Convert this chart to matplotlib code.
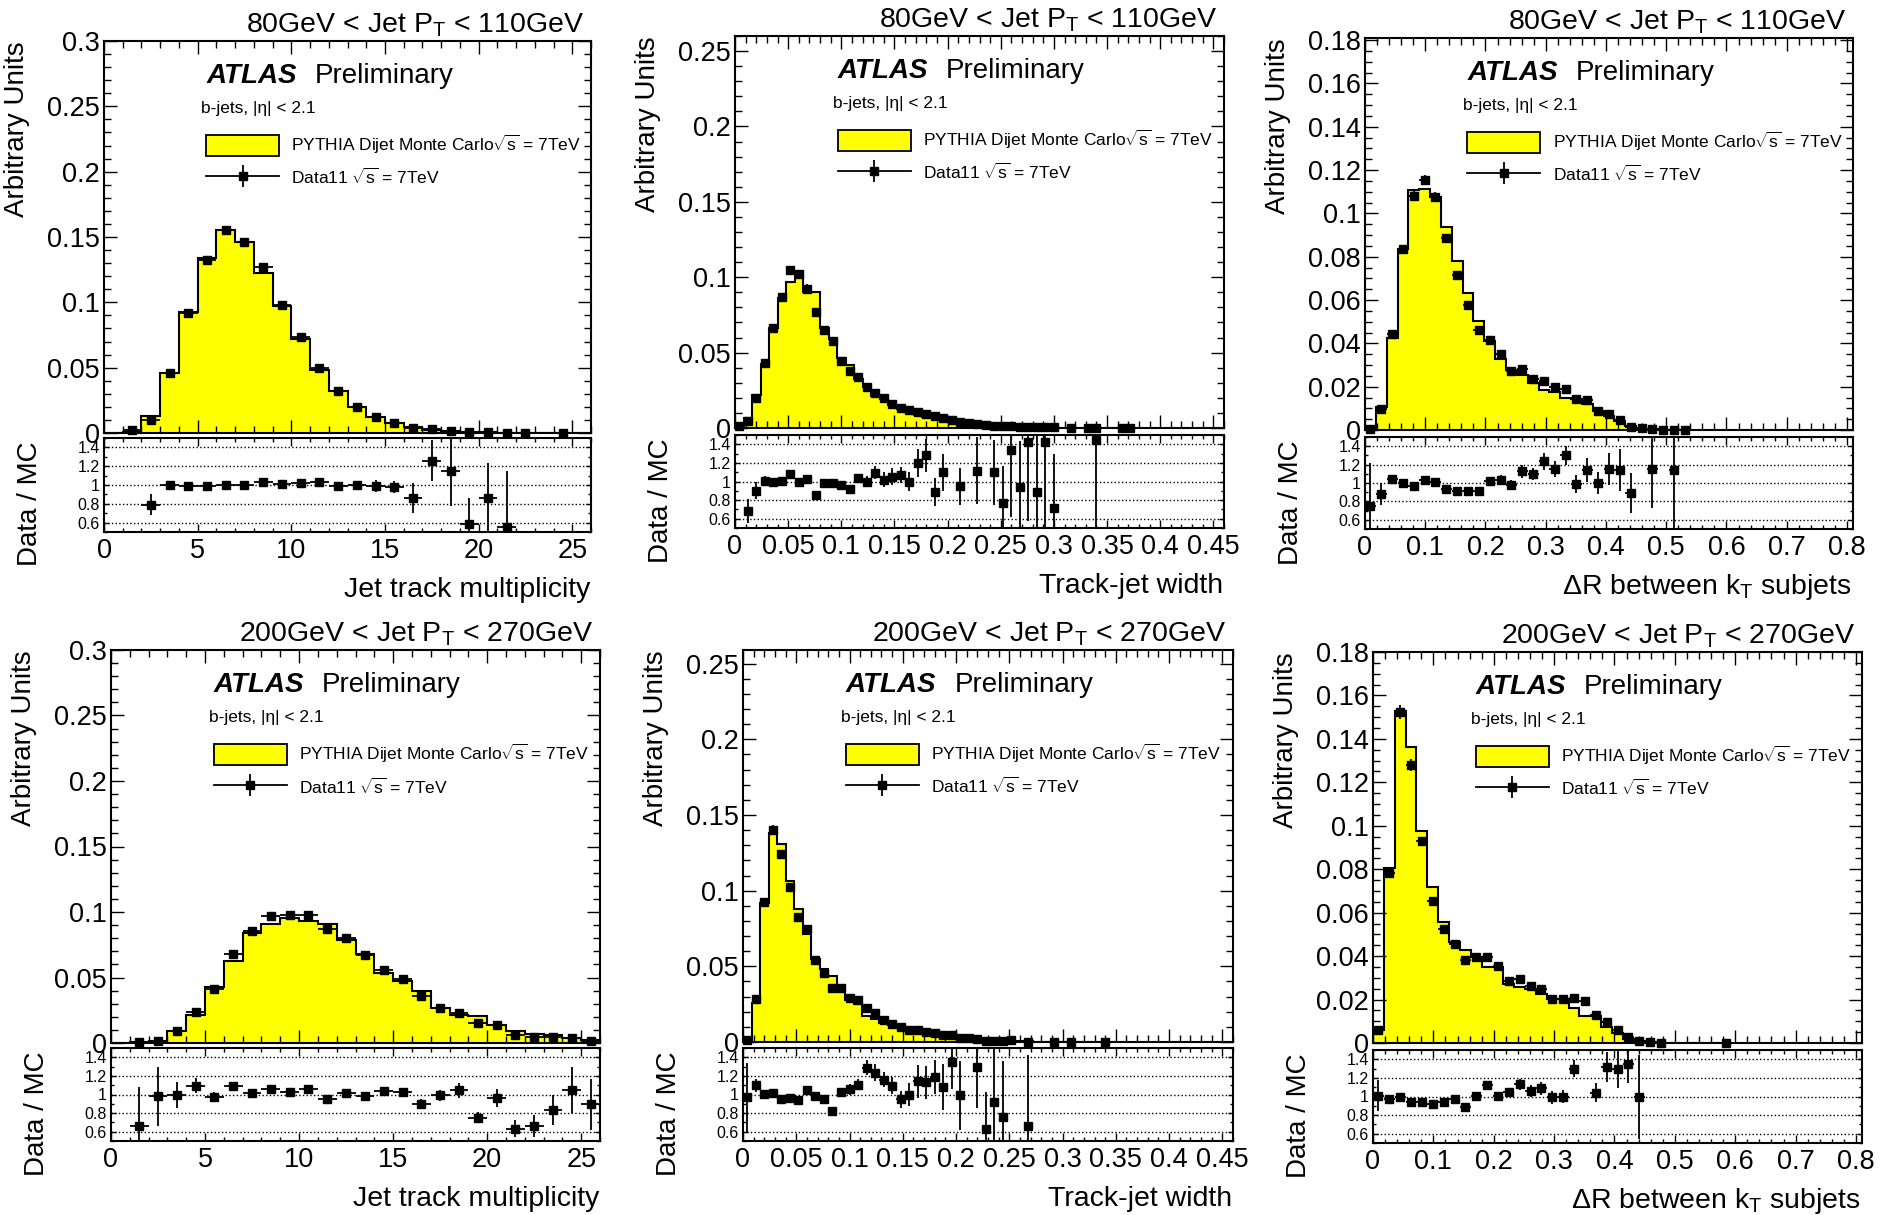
import numpy as np
import matplotlib
matplotlib.use('Agg')
import matplotlib.pyplot as plt
from matplotlib.ticker import MultipleLocator, FuncFormatter
from matplotlib.patches import Patch
from matplotlib.lines import Line2D

plt.rcParams['font.family'] = ['Liberation Sans', 'DejaVu Sans']
plt.rcParams['mathtext.fontset'] = 'custom'
plt.rcParams['mathtext.rm'] = 'Liberation Sans'
plt.rcParams['mathtext.it'] = 'Liberation Sans:italic'
plt.rcParams['mathtext.bf'] = 'Liberation Sans:bold'

N = None
# ---------------- Panel 1: Jet track multiplicity, 80-110 GeV ----------------
p1_width = 1.0
p1_mc = [0.0, 0.001, 0.0128, 0.046, 0.0926, 0.134, 0.155, 0.146, 0.1227, 0.097, 0.0717,
         0.0485, 0.0321, 0.020, 0.0122, 0.0077, 0.0046, 0.0026, 0.0015, 0.0008, 0.0005,
         0.0003, 0.0002, 0.0001, 0.0001, 0.0]
p1_data = [N, 0.002, 0.010, 0.0458, 0.0917, 0.1327, 0.155, 0.146, 0.127, 0.098, 0.0731,
           0.0499, 0.0318, 0.0201, 0.0121, 0.0075, 0.0040, 0.0033, 0.0017, 0.0005, 0.0004,
           0.0002, 0.0001, N, 0.0001, N]
p1_ratio = [N, N, 0.79, 0.995, 0.99, 0.99, 1.0, 1.0, 1.035, 1.01, 1.02, 1.03, 0.99, 1.005,
            0.99, 0.98, 0.86, 1.26, 1.15, 0.58, 0.86, 0.55, N, N, N, N]
p1_rerr = [0, 0, 0.11, 0.03, 0.02, 0.02, 0.015, 0.015, 0.015, 0.02, 0.02, 0.025, 0.03, 0.04,
           0.06, 0.06, 0.16, 0.22, 0.37, 0.28, 0.37, 0.6, 0, 0, 0, 0]

# ---------------- Panel 2: Track-jet width, 80-110 GeV ----------------
p2_width = 0.008
p2_mc = [0.0006, 0.0068, 0.022, 0.0426, 0.0665, 0.086, 0.097, 0.103, 0.090, 0.090, 0.066,
         0.059, 0.0465, 0.0415, 0.0328, 0.0275, 0.021, 0.0194, 0.0151, 0.0123, 0.0118,
         0.0088, 0.0072, 0.0087, 0.0060, 0.0042, 0.0042, 0.0030, 0.0023, 0.0019, 0.00145,
         0.0014, 0.0009, 0.00085, 0.00056, 0.00068, 0.00042, 0.00055, 0.0003, 0.0002,
         0.0002, 0.0001, 0.00014, 0.0001, 0.0001, 0.0, 0.0]
p2_data = [0.0011, 0.0048, 0.0198, 0.043, 0.0665, 0.087, 0.1046, 0.102, 0.0925, 0.077,
           0.065, 0.058, 0.0445, 0.038, 0.034, 0.0275, 0.023, 0.0198, 0.0159, 0.0132, 0.0118,
           0.0106, 0.0092, 0.0077, 0.0066, 0.0050, 0.0040, 0.0033, 0.0026, 0.0022, 0.0016,
           0.0011, 0.0012, 0.0008, 0.0008, 0.0006, 0.0006, 0.0004, N, 0.0003, N, 0.0002,
           0.0002, N, N, 0.0001, 0.0001]
p2_ratio = [N, 0.68, 0.90, 1.01, 1.0, 1.01, 1.08, 0.99, 1.025, 0.856, 0.98, 0.985, 0.957,
            0.914, 1.036, 1.0, 1.093, 1.02, 1.05, 1.07, 1.0, 1.2, 1.28, 0.89, 1.1, N, 0.95,
            N, 1.115, N, 1.1, 0.77, 1.34, 0.94, 1.43, 0.885, 1.43, 0.72, N, N, N, N, 1.45,
            N, N, N, N]
p2_rerr = [0, 0.13, 0.09, 0.05, 0.03, 0.03, 0.03, 0.03, 0.03, 0.03, 0.03, 0.03, 0.04, 0.05,
           0.05, 0.06, 0.07, 0.08, 0.09, 0.09, 0.1, 0.15, 0.18, 0.15, 0.2, 0, 0.2, 0, 0.36,
           0, 0.35, 0.4, 0.72, 0.5, 0.85, 0.9, 1.0, 0.58, 0, 0, 0, 0, 1.5, 0, 0, 0, 0]

# ---------------- Panel 3: dR between kT subjets, 80-110 GeV ----------------
p3_width = 0.018
p3_mc = [0.0007, 0.0108, 0.0425, 0.0838, 0.111, 0.1114, 0.1077, 0.0938, 0.078, 0.0634,
         0.0503, 0.0412, 0.033, 0.0277, 0.0254, 0.0218, 0.0185, 0.0177, 0.0146, 0.0144,
         0.0121, 0.0088, 0.0064, 0.0040, 0.0017, 0.0006, 0.0003, 0.0002, 0.0001, 0.0001]
p3_data = [0.0005, 0.0095, 0.0442, 0.0834, 0.108, 0.1154, 0.1077, 0.0885, 0.0715, 0.0577,
           0.0462, 0.0415, 0.035, 0.0272, 0.028, 0.0235, 0.0226, 0.020, 0.019, 0.0143,
           0.0138, 0.0088, 0.0074, 0.0046, 0.0015, 0.0008, 0.0003, 0.0002, 0.0001, 0.0001]
p3_ratio = [0.75, 0.88, 1.04, 1.0, 0.97, 1.036, 1.007, 0.94, 0.916, 0.91, 0.916, 1.018,
            1.036, 0.98, 1.127, 1.098, 1.236, 1.153, 1.30, 0.99, 1.138, 1.0, 1.153, 1.138,
            0.89, N, 1.153, N, 1.145, N]
p3_rerr = [0.47, 0.12, 0.03, 0.02, 0.02, 0.02, 0.02, 0.02, 0.02, 0.02, 0.03, 0.04, 0.05,
           0.05, 0.07, 0.07, 0.09, 0.09, 0.1, 0.1, 0.13, 0.12, 0.17, 0.23, 0.22, 0, 0.43,
           0, 1.0, 0]

# ---------------- Panel 4: Jet track multiplicity, 200-270 GeV ----------------
p4_width = 1.0
p4_mc = [0.0, 0.0008, 0.0013, 0.0094, 0.0217, 0.0426, 0.0625, 0.0842, 0.091, 0.0952, 0.093,
         0.091, 0.079, 0.068, 0.0536, 0.0472, 0.0395, 0.0268, 0.0217, 0.0204, 0.014, 0.0094,
         0.0071, 0.0059, 0.0038, 0.002]
p4_data = [N, 0.0005, 0.0013, 0.0093, 0.0238, 0.0415, 0.068, 0.0857, 0.0968, 0.098, 0.098,
           0.0868, 0.0804, 0.0668, 0.0555, 0.0486, 0.0356, 0.0265, 0.0227, 0.0153, 0.0135,
           0.0059, 0.0047, 0.0049, 0.004, 0.0018]
p4_ratio = [N, 0.66, 0.98, 0.99, 1.096, 0.975, 1.09, 1.018, 1.064, 1.03, 1.054, 0.954, 1.018,
            0.982, 1.036, 1.03, 0.9, 0.99, 1.046, 0.75, 0.964, 0.632, 0.66, 0.83, 1.046, 0.893]
p4_rerr = [0, 0.42, 0.32, 0.14, 0.08, 0.05, 0.04, 0.03, 0.03, 0.03, 0.03, 0.03, 0.03, 0.03,
           0.04, 0.04, 0.05, 0.06, 0.08, 0.06, 0.1, 0.09, 0.12, 0.16, 0.25, 0.27]

# ---------------- Panel 5: Track-jet width, 200-270 GeV ----------------
p5_width = 0.008
p5_mc = [0.0015, 0.026, 0.092, 0.138, 0.131, 0.1067, 0.0876, 0.0713, 0.0551, 0.048, 0.0433,
         0.035, 0.0277, 0.0254, 0.0174, 0.0155, 0.0128, 0.0111, 0.0103, 0.0082, 0.0068,
         0.0060, 0.0052, 0.0043, 0.0033, 0.0028, 0.0016, 0.0014, 0.0011, 0.0009, 0.0008,
         0.0005, 0.0004, 0.00045, 0.0003, 0.0002, 0.0002, 0.0001, 0.0001, 0.0001, 0.0001,
         0.0001, 0.0001]
p5_data = [0.0015, 0.0286, 0.0925, 0.1403, 0.1244, 0.1024, 0.0826, 0.0749, 0.054, 0.0458,
           0.0357, 0.0359, 0.0293, 0.028, 0.0225, 0.0192, 0.0148, 0.0121, 0.0098, 0.0082,
           0.0077, 0.0068, 0.0062, 0.0046, 0.0045, 0.0028, 0.0026, 0.0018, 0.0007, 0.0008,
           0.0006, 0.0010, N, 0.0003, N, N, 0.0002, N, 0.0002, N, N, N, 0.0002]
p5_ratio = [0.97, 1.10, 1.007, 1.014, 0.95, 0.96, 0.943, 1.05, 0.98, 0.954, 0.825, 1.025,
            1.057, 1.104, 1.29, 1.236, 1.157, 1.093, 0.95, 1.0, 1.14, 1.13, 1.19, 1.08, 1.354,
            0.99, N, 1.3, 0.63, 0.914, 0.76, N, N, 0.66, N, N, N, N, N, N, N, N, N]
p5_rerr = [0.37, 0.07, 0.03, 0.02, 0.02, 0.02, 0.03, 0.03, 0.04, 0.04, 0.04, 0.05, 0.06,
           0.06, 0.08, 0.09, 0.08, 0.09, 0.09, 0.12, 0.18, 0.18, 0.18, 0.25, 0.3, 0.37, 0,
           0.45, 0.4, 1.0, 0.6, 0, 0, 0.76, 0, 0, 0, 0, 0, 0, 0, 0, 0]

# ---------------- Panel 6: dR between kT subjets, 200-270 GeV ----------------
p6_width = 0.018
p6_mc = [0.006, 0.0806, 0.153, 0.1363, 0.0974, 0.0718, 0.0557, 0.0466, 0.043, 0.0397,
         0.0351, 0.0351, 0.0272, 0.026, 0.0248, 0.0227, 0.0204, 0.0202, 0.016, 0.0125,
         0.0122, 0.0074, 0.0047, 0.0020, 0.0008, 0.0003, 0.0002, 0.0001, 0.0001, 0.0001,
         0.0001, 0.0, 0.0]
p6_data = [0.006, 0.0782, 0.1524, 0.128, 0.0928, 0.0656, 0.0524, 0.0455, 0.0382, 0.0395,
           0.0394, 0.0353, 0.0285, 0.0295, 0.0263, 0.0247, 0.0203, 0.0202, 0.0206, 0.0195,
           0.0127, 0.0096, 0.0061, 0.0027, 0.0008, 0.0005, 0.0002, N, N, N, N, N, 0.0001]
p6_ratio = [1.01, 0.97, 1.0, 0.936, 0.946, 0.918, 0.94, 0.97, 0.886, 1.01, 1.125, 1.007,
            1.046, 1.13, 1.06, 1.09, 0.993, 1.0, 1.30, N, 1.043, 1.32, 1.296, 1.346, 0.993,
            N, N, N, N, N, N, N, N]
p6_rerr = [0.17, 0.03, 0.02, 0.02, 0.02, 0.02, 0.02, 0.03, 0.03, 0.04, 0.04, 0.04, 0.05,
           0.06, 0.06, 0.07, 0.07, 0.07, 0.09, 0, 0.1, 0.16, 0.2, 0.2, 0.45, 0, 0, 0, 0, 0,
           0, 0, 0]

titles = ['80GeV < Jet $\\mathregular{P_T}$ < 110GeV'] * 3 + ['200GeV < Jet $\\mathregular{P_T}$ < 270GeV'] * 3
xlabels = ['Jet track multiplicity', 'Track-jet width', '\u0394R between $\\mathregular{k_T}$ subjets'] * 2
mc_label = 'PYTHIA Dijet Monte Carlo$\\mathregular{\\sqrt{s}}$ = 7TeV'
data_label = 'Data11 $\\mathregular{\\sqrt{s}}$ = 7TeV'

W, H = 1884, 1215
fig = plt.figure(figsize=(W / 100, H / 100), dpi=100)


def rect(l, t, r, b):
    return [l / W, 1 - b / H, (r - l) / W, (b - t) / H]


def arr(L):
    return np.array([np.nan if v is None else v for v in L], dtype=float)


fmt = FuncFormatter(lambda v, pos: f'{v:g}')

panels = [
    dict(main=(104, 41, 591, 433), ratio=(104, 438, 591, 532), w=p1_width, mc=p1_mc, data=p1_data,
         ratio_v=p1_ratio, rerr=p1_rerr, xlim=26, ylim=0.3, xmaj=5, xmin=1, ymaj=0.05, ymin=0.01),
    dict(main=(735, 36, 1224, 428), ratio=(735, 435, 1224, 528), w=p2_width, mc=p2_mc, data=p2_data,
         ratio_v=p2_ratio, rerr=p2_rerr, xlim=0.46, ylim=0.26, xmaj=0.05, xmin=0.01, ymaj=0.05, ymin=0.01),
    dict(main=(1365, 38, 1853, 430), ratio=(1365, 437, 1853, 529), w=p3_width, mc=p3_mc, data=p3_data,
         ratio_v=p3_ratio, rerr=p3_rerr, xlim=0.81, ylim=0.181, xmaj=0.1, xmin=0.02, ymaj=0.02, ymin=0.005),
    dict(main=(111, 650, 600, 1043), ratio=(111, 1048, 600, 1141), w=p4_width, mc=p4_mc, data=p4_data,
         ratio_v=p4_ratio, rerr=p4_rerr, xlim=26, ylim=0.3, xmaj=5, xmin=1, ymaj=0.05, ymin=0.01),
    dict(main=(743, 650, 1233, 1042), ratio=(743, 1048, 1233, 1141), w=p5_width, mc=p5_mc, data=p5_data,
         ratio_v=p5_ratio, rerr=p5_rerr, xlim=0.46, ylim=0.259, xmaj=0.05, xmin=0.01, ymaj=0.05, ymin=0.01),
    dict(main=(1373, 652, 1862, 1043), ratio=(1373, 1050, 1862, 1143), w=p6_width, mc=p6_mc, data=p6_data,
         ratio_v=p6_ratio, rerr=p6_rerr, xlim=0.81, ylim=0.18, xmaj=0.1, xmin=0.02, ymaj=0.02, ymin=0.005),
]

for i, p in enumerate(panels):
    axm = fig.add_axes(rect(*p['main']))
    axr = fig.add_axes(rect(*p['ratio']))
    w = p['w']
    mc = arr(p['mc'])
    n = len(mc)
    edges = np.arange(n + 1) * w
    centers = edges[:-1] + w / 2
    data = arr(p['data'])
    ratio = arr(p['ratio_v'])
    rerr = arr(p['rerr'])

    axm.stairs(mc, edges, fill=True, color='#ffff00', lw=0, zorder=1)
    axm.stairs(mc, edges, color='black', lw=1.5, zorder=2)
    ok = np.isfinite(ratio) & np.isfinite(data) & (ratio > 0)
    derr = np.where(ok, np.nan_to_num(data) * rerr / np.where(ok, ratio, 1.0), 0.0)
    derr = np.minimum(derr, np.nan_to_num(data))
    cont = axm.errorbar(centers, data, xerr=w / 2, yerr=derr, fmt='s', color='black',
                        ms=6, elinewidth=1.3, capsize=0, zorder=3)
    for a in cont.get_children():
        a.set_clip_on(False)

    axr.errorbar(centers, ratio, xerr=w / 2, yerr=rerr, fmt='s', color='black',
                 ms=6, elinewidth=1.3, capsize=0, zorder=3)

    axm.set_xlim(0, p['xlim'])
    axm.set_ylim(0, p['ylim'])
    axr.set_xlim(0, p['xlim'])
    axr.set_ylim(0.5, 1.5)

    for ax in (axm, axr):
        ax.xaxis.set_major_locator(MultipleLocator(p['xmaj']))
        ax.xaxis.set_minor_locator(MultipleLocator(p['xmin']))
        ax.xaxis.set_major_formatter(fmt)
        for s in ax.spines.values():
            s.set_linewidth(1.5)
    axm.yaxis.set_major_locator(MultipleLocator(p['ymaj']))
    axm.yaxis.set_minor_locator(MultipleLocator(p['ymin']))
    axm.yaxis.set_major_formatter(fmt)
    axr.yaxis.set_major_locator(MultipleLocator(0.2))
    axr.yaxis.set_minor_locator(MultipleLocator(0.1))
    axr.yaxis.set_major_formatter(fmt)

    axm.tick_params(which='both', direction='in', top=True, right=True, labelbottom=False)
    axm.tick_params(which='major', length=9.5, width=1.0, labelsize=19.5, pad=3)
    axm.tick_params(which='minor', length=5, width=1.0)
    axr.tick_params(which='both', direction='in', top=True, right=True)
    axr.tick_params(axis='x', which='major', length=6, width=1.0, labelsize=19.5, pad=4)
    axr.tick_params(axis='x', which='minor', length=3, width=1.0)
    axr.tick_params(axis='y', which='major', length=3.5, width=1.0, labelsize=11.5, pad=3)
    axr.tick_params(axis='y', which='minor', length=2, width=1.0)
    axr.grid(axis='y', which='major', ls=':', color='black', lw=1.0)

    # texts
    axm.text(0.986, 1.022, titles[i], ha='right', va='baseline', fontsize=20.5,
             transform=axm.transAxes)
    axm.text(0.21, 0.893, 'ATLAS', ha='left', va='baseline', fontsize=20,
             weight='bold', style='italic', transform=axm.transAxes)
    axm.text(0.432, 0.893, 'Preliminary', ha='left', va='baseline', fontsize=20,
             transform=axm.transAxes)
    axm.text(0.20, 0.816, 'b-jets, |\u03b7| < 2.1', ha='left', va='baseline', fontsize=12.5,
             transform=axm.transAxes)
    handles = [Patch(facecolor='#ffff00', edgecolor='black', lw=1.3),
               (Line2D([], [], color='black', lw=1.3, marker='s', ms=6),
                Line2D([], [], color='black', ls='none', marker='|', ms=16, mew=1.3))]
    axm.legend(handles, [mc_label, data_label], loc='upper left', bbox_to_anchor=(0.21, 0.765),
               frameon=False, fontsize=12.5, handlelength=4.2, handleheight=1.5,
               handletextpad=0.7, labelspacing=0.63, borderpad=0, borderaxespad=0)

    l, t, r, b = p['main']
    rl, rt, rr, rb = p['ratio']
    fig.text((l - 87) / W, 1 - t / H, 'Arbitrary Units', rotation=90, ha='center', va='top',
             fontsize=20)
    fig.text((rl - 74) / W, 1 - (rt + 3) / H, 'Data / MC', rotation=90, ha='center', va='top',
             fontsize=20)
    fig.text((rr - 1) / W, 1 - (rb + 58) / H, xlabels[i], ha='right', va='center', fontsize=20.5)

fig.savefig('out.png', dpi=100)
